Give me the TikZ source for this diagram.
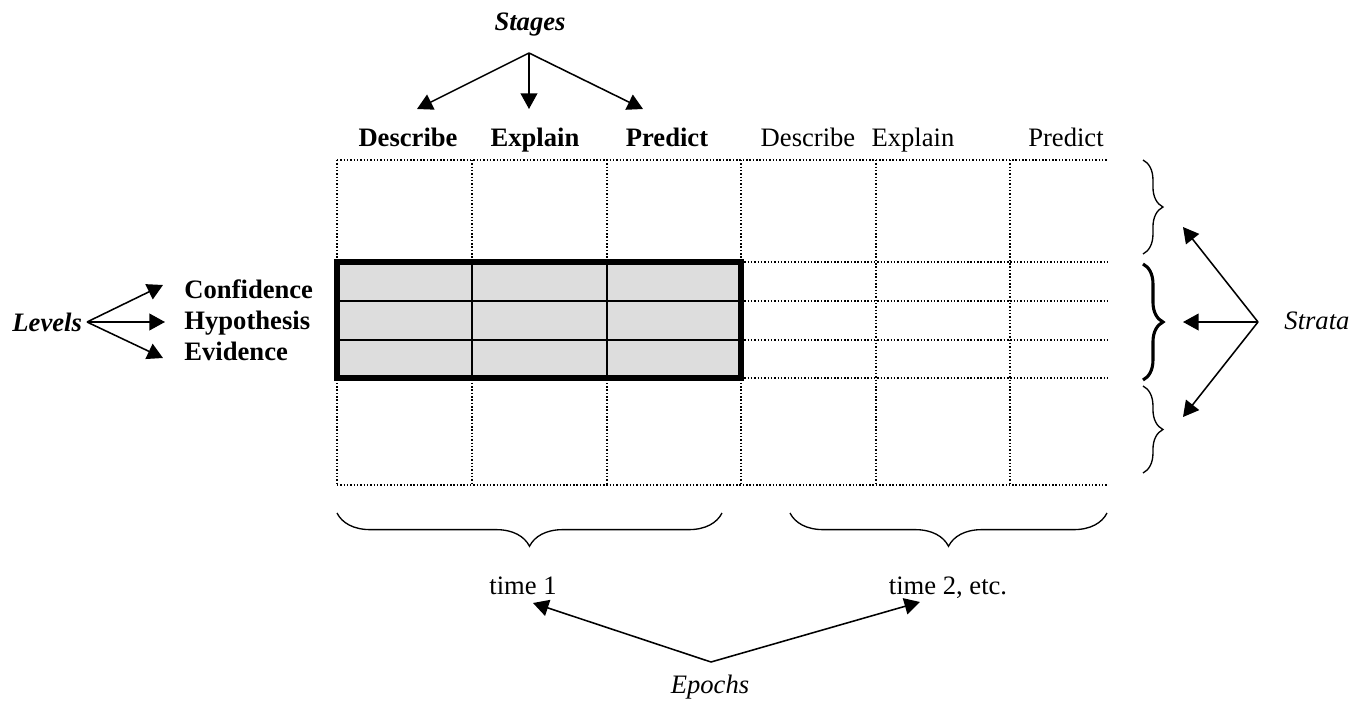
\documentclass[tikz,border=0pt]{standalone}
\usepackage{fontspec}
\setmainfont{Liberation Serif}
\usetikzlibrary{arrows.meta,decorations.pathreplacing}
\definecolor{cellgray}{RGB}{221,221,221}
\tikzset{arr/.style={-{Triangle[length=7pt,width=7.5pt]}, line width=0.7pt},
dotline/.style={line width=0.65pt, dash pattern=on 0.65pt off 0.85pt},
brc/.style={decorate, decoration={brace, amplitude=#1}, line width=0.6pt},
brc/.default={9pt}}

\begin{document}
\begin{tikzpicture}[x=0.451pt,y=-0.451pt,font=\fontsize{12pt}{14pt}\selectfont]
\useasboundingbox (0,0) rectangle (1358,707);
%\draw [help lines] (0,0) grid (1358,707);

% dotted grid
\foreach \x in {337,472,607,741,876,1010}
     \draw [dotline] (\x,160) -- (\x,485);
\foreach \y in {160,485}
     \draw [dotline] (337,\y) -- (1107,\y);
\foreach \y in {262,301,340,378}
     \draw [dotline] (741,\y) -- (1107,\y);

% first epoch, three levels
\fill [cellgray] (337,262) rectangle (741,378);
\foreach \y in {301,340}
     \draw [line width=0.7pt] (337,\y) -- (741,\y);
\foreach \x in {472,607}
     \draw [line width=0.7pt] (\x,262) -- (\x,378);
\draw [line width=2.4pt] (337,262) rectangle (741,378);

% column heads
\node [anchor=base] (hd1) at (408,146) {\textbf{Describe}};
\node [anchor=base] (hd2) at (535,146) {\textbf{Explain}};
\node [anchor=base] (hd3) at (667,146) {\textbf{Predict}};
\node [anchor=base] (hd4) at (808,146) {Describe};
\node [anchor=base] (hd5) at (913,146) {Explain};
\node [anchor=base] (hd6) at (1066,146) {Predict};

% stages
\node [anchor=base] (stages) at (530,30) {\textbf{\textit{Stages}}};
\coordinate (sthub) at (529,53);
\coordinate (st1) at (417,109);
\coordinate (st2) at (529,109);
\coordinate (st3) at (643,109);
\foreach \t in {st1,st2,st3}
     \draw [arr] (sthub) -- (\t);

% levels
\node [anchor=base west, inner sep=0pt] (levels) at (12,331) {\textbf{\textit{Levels}}};
\node [anchor=base west, inner sep=0pt] (lv1) at (184,298) {\textbf{Confidence}};
\node [anchor=base west, inner sep=0pt] (lv2) at (184,329) {\textbf{Hypothesis}};
\node [anchor=base west, inner sep=0pt] (lv3) at (184,360) {\textbf{Evidence}};
\coordinate (lvhub) at (87,322);
\draw [arr] (lvhub) -- (163,285);
\draw [arr] (lvhub) -- (165,322);
\draw [arr] (lvhub) -- (163,358);

% strata
\draw [brc] (1143,160) -- (1143,254);
\draw [brc, line width=1.4pt] (1143,264) -- (1143,380);
\draw [brc] (1143,386) -- (1143,473);
\node [anchor=base west, inner sep=0pt] (strata) at (1284,329) {\textit{Strata}};
\coordinate (sthub2) at (1258,322);
\coordinate (sr1) at (1183,227);
\coordinate (sr2) at (1183,322);
\coordinate (sr3) at (1183,417);
\foreach \t in {sr1,sr2,sr3}
     \draw [arr] (sthub2) -- (\t);

% epochs
\draw [brc=15pt] (722,513) -- (337,513);
\draw [brc=15pt] (1107,513) -- (790,513);
\node [anchor=base] (ep1) at (523,594) {time 1};
\node [anchor=base] (ep2) at (948,594) {time 2, etc.};
\node [anchor=base] (epochs) at (710,693) {\textit{Epochs}};
\coordinate (ephub) at (711,662);
\draw [arr] (ephub) -- (533,603);
\draw [arr] (ephub) -- (920,602);
\end{tikzpicture}
\end{document}
